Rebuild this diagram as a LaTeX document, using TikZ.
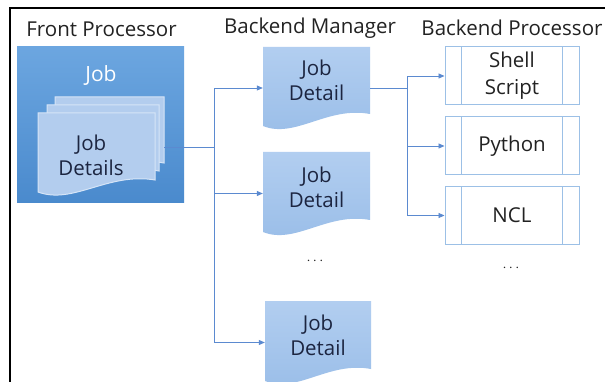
\documentclass[tikz,border=0pt]{standalone}
\usepackage{fontspec}
\setmainfont{Open Sans}
\usetikzlibrary{arrows.meta,calc,fit}
\definecolor{fbtop}{HTML}{6CA6E0}
\definecolor{fbbot}{HTML}{4A8ACD}
\definecolor{pagefill}{HTML}{B3CDEE}
\definecolor{pageedge}{HTML}{D6E5F7}
\definecolor{doctop}{HTML}{B2CEF0}
\definecolor{docbot}{HTML}{99BDE8}
\definecolor{doctxt}{HTML}{1C2540}
\definecolor{conncol}{HTML}{5B8AD0}
\definecolor{procedge}{HTML}{9CC0E6}
\definecolor{titlecol}{HTML}{222222}
\newcommand\docshape[6]{%
  \path[#6] (#2,#3) -- (#4,#3) -- (#4,#5)
    .. controls ({#4-0.4*(#4-#2)},{#5-8}) and ({#2+0.3*(#4-#2)},{#5+25}) .. (#2,{#5+12}) -- cycle;
  \path (#2,#3) coordinate (#1-nw) (#4,{#5+15}) coordinate (#1-se);
  \node[fit=(#1-nw)(#1-se), inner sep=0pt] (#1) {};
}
\tikzset{
  title/.style={font=\fontsize{20.5}{24}\selectfont, text=titlecol, inner sep=0pt},
  doctext/.style={font=\fontsize{20.5}{25}\selectfont, text=doctxt, align=center, inner sep=0pt},
  docfill/.style={top color=doctop, bottom color=docbot},
  pagestyle/.style={fill=pagefill, draw=pageedge, line width=1pt},
  conn/.style={draw=conncol, line width=0.8pt},
  arr/.style={conn, -{Triangle[length=6pt,width=5pt]}},
  procbox/.style={draw=procedge, line width=1pt, minimum width=134pt, minimum height=58pt,
    align=center, font=\fontsize{20.5}{27}\selectfont, text=titlecol, inner sep=0pt,
    path picture={
      \draw[procedge, line width=1pt] ([xshift=16pt]path picture bounding box.north west) -- ([xshift=16pt]path picture bounding box.south west);
      \draw[procedge, line width=1pt] ([xshift=-17pt]path picture bounding box.north east) -- ([xshift=-17pt]path picture bounding box.south east);
    }},
  fpbox/.style={top color=fbtop, bottom color=fbbot, minimum width=167pt, minimum height=156pt, inner sep=0pt},
  dots/.style={font=\fontsize{14}{16}\selectfont, text=titlecol, inner sep=0pt}
}
\begin{document}
\begin{tikzpicture}[x=1pt,y=-1pt]
\useasboundingbox (0,0) rectangle (605,382);
\fill[white] (0,0) rectangle (605,382);
% frame
\draw[line width=2pt, black] (9.5,382) -- (9.5,8.5) -- (605,8.5);
% titles
\node[title] (t1) at (101.5,29) {Front Processor};
\node[title] (t2) at (310,28) {Backend Manager};
\node[title] (t3) at (512,28) {Backend Processor};
% front processor box
\node[fpbox] (fp) at (100.5,125) {};
\node[title, text=white, font=\fontsize{21}{24}\selectfont] (fpjob) at (101,75) {Job};
% stacked pages
\docshape{p3}{55}{97}{164}{163}{pagestyle}
\docshape{p2}{47}{105}{159}{171}{pagestyle}
\docshape{p1}{38}{113}{155}{180}{pagestyle}
\node[doctext] (p1t) at (91,155) {Job\\Details};
% backend manager documents
\docshape{jd1}{263}{47}{370}{114}{docfill}
\node[doctext] (jd1t) at (316.5,80.5) {Job\\Detail};
\docshape{jd2}{263}{152}{370}{220}{docfill}
\node[doctext] (jd2t) at (316.5,187) {Job\\Detail};
\docshape{jd3}{265}{301}{371}{369}{docfill}
\node[doctext] (jd3t) at (318,335) {Job\\Detail};
\node[dots] (d1) at (315,261) {$\cdots$};
% backend processors
\node[procbox] (sh) at (512,76) {Shell\\Script};
\node[procbox] (py) at (512,146) {Python};
\node[procbox] (ncl) at (512,215.5) {NCL};
\node[dots] (d2) at (511,268) {$\cdots$};
% connectors
\coordinate (b1) at (214,147);
\draw[conn] (p3.east |- b1) -- (b1);
\draw[arr] (b1) |- (jd1.west);
\draw[arr] (b1) |- (jd2.west);
\draw[arr] (b1) |- (jd3.west);
\coordinate (b2) at (407,88);
\draw[conn] (jd1.east) -- (b2);
\draw[arr] (b2) |- (sh.west);
\draw[arr] (b2) |- (py.west);
\draw[arr] (b2) |- (ncl.west);
\end{tikzpicture}
\end{document}
